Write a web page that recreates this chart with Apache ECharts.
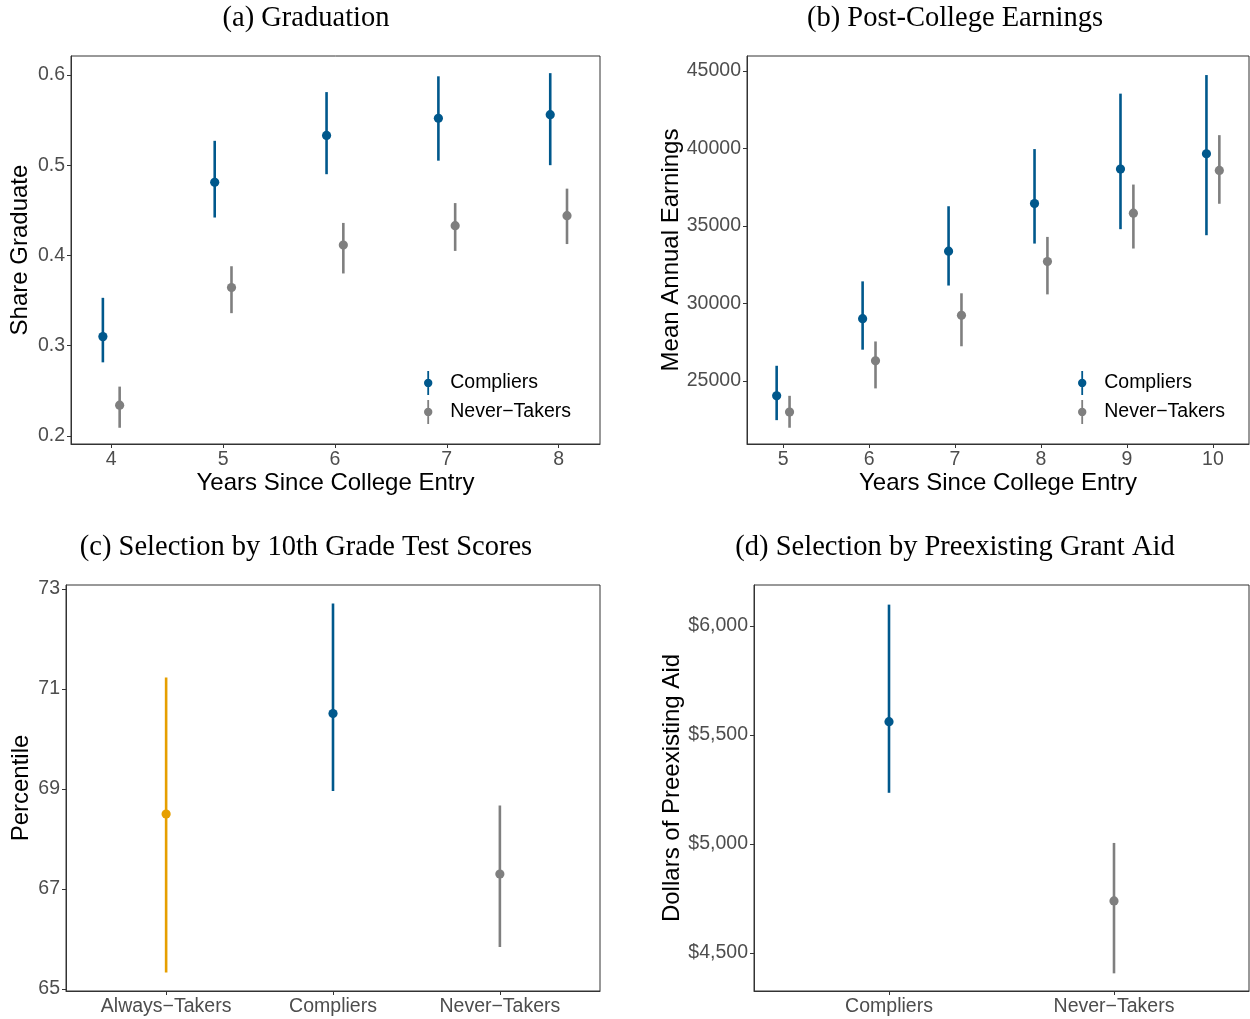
<!DOCTYPE html>
<html>
<head>
<meta charset="utf-8">
<script src="https://cdn.jsdelivr.net/npm/echarts@6/dist/echarts.min.js"></script>
<style>html,body{margin:0;padding:0;background:#fff}#c{width:1250px;height:1019px}</style>
</head>
<body>
<div id="c"></div>
<script>
// ---------- DATA ----------
// (a) Graduation
const gradYears = [4, 5, 6, 7, 8];
const gradCompliers = [0.310, 0.481, 0.533, 0.552, 0.556];
const gradCompliersLo = [0.2815, 0.442, 0.490, 0.505, 0.500];
const gradCompliersHi = [0.353, 0.527, 0.581, 0.5985, 0.602];
const gradNever = [0.234, 0.3644, 0.4115, 0.433, 0.444];
const gradNeverLo = [0.209, 0.336, 0.380, 0.405, 0.4126];
const gradNeverHi = [0.2546, 0.388, 0.436, 0.458, 0.474];
const gradYTicks = [0.2, 0.3, 0.4, 0.5, 0.6];

// (b) Post-College Earnings
const earnYears = [5, 6, 7, 8, 9, 10];
const earnCompliers = [24030, 29010, 33370, 36440, 38670, 39660];
const earnCompliersLo = [22460, 27010, 31150, 33860, 34790, 34400];
const earnCompliersHi = [25970, 31420, 36270, 39960, 43540, 44740];
const earnNever = [22980, 26290, 29230, 32700, 35820, 38580];
const earnNeverLo = [21970, 24510, 27230, 30580, 33540, 36430];
const earnNeverHi = [24030, 27540, 30650, 34290, 37670, 40860];
const earnYTicks = [25000, 30000, 35000, 40000, 45000];

// (c) Selection by 10th Grade Test Scores
const testGroups = ['Always\u2212Takers', 'Compliers', 'Never\u2212Takers'];
const testMean = [68.50, 70.51, 67.30];
const testLo = [65.33, 68.96, 65.84];
const testHi = [71.23, 72.71, 68.67];
const testYTicks = [65, 67, 69, 71, 73];

// (d) Selection by Preexisting Grant Aid
const aidGroups = ['Compliers', 'Never\u2212Takers'];
const aidMean = [5561, 4739];
const aidLo = [5235, 4407];
const aidHi = [6098, 5005];
const aidYTicks = [4500, 5000, 5500, 6000];

const legendNames = ['Compliers', 'Never\u2212Takers'];

// ---------- STYLE ----------
const BLUE = '#00588c';
const GREY = '#7f7f7f';
const ORANGE = '#e69f00';
const groupColor = {'Always\u2212Takers': ORANGE, 'Compliers': BLUE, 'Never\u2212Takers': GREY};
const DODGE = 0.075;
const SANS = 'Liberation Sans, Arial, Helvetica, sans-serif';
const SERIF = 'Liberation Serif, Times New Roman, serif';
const TICKCOL = '#4d4d4d';
const LINECOL = '#333333';

function rows(xs, ys, los, his, off) {
  return xs.map((x, i) => [x + off, ys[i], los[i], his[i]]);
}

function pointRange(color) {
  return function (params, api) {
    const x = api.value(0);
    const p = api.coord([x, api.value(1)]);
    const lo = api.coord([x, api.value(2)]);
    const hi = api.coord([x, api.value(3)]);
    const c = typeof color === 'function' ? color(params.dataIndex) : color;
    return {
      type: 'group',
      children: [
        {type: 'line', shape: {x1: lo[0], y1: lo[1], x2: hi[0], y2: hi[1]},
         style: {stroke: c, lineWidth: 2.6}},
        {type: 'circle', shape: {cx: p[0], cy: p[1], r: 4.6}, style: {fill: c}}
      ]
    };
  };
}

function xAxisBase(gi, min, max, ticks, fmt, name) {
  return {
    type: 'value', gridIndex: gi, min: min, max: max,
    splitLine: {show: false},
    axisLine: {show: true, onZero: false, lineStyle: {color: LINECOL, width: 1}},
    axisTick: {show: true, length: 4, customValues: ticks, lineStyle: {color: LINECOL}},
    axisLabel: {customValues: ticks, color: TICKCOL, fontSize: 19.5, fontFamily: SANS, margin: 6,
                formatter: fmt || (v => String(v))},
    name: name || '', nameLocation: 'middle', nameGap: 26,
    nameTextStyle: {color: '#000', fontSize: 24, fontFamily: SANS}
  };
}
function yAxisBase(gi, min, max, ticks, fmt, name, gap) {
  return {
    type: 'value', gridIndex: gi, min: min, max: max,
    splitLine: {show: false},
    axisLine: {show: true, onZero: false, lineStyle: {color: LINECOL, width: 1}},
    axisTick: {show: true, length: 4, customValues: ticks, lineStyle: {color: LINECOL}},
    axisLabel: {customValues: ticks, color: TICKCOL, fontSize: 19.5, fontFamily: SANS, margin: 6,
                formatter: fmt},
    name: name, nameLocation: 'middle', nameGap: gap, nameRotate: 90,
    nameTextStyle: {color: '#000', fontSize: 24, fontFamily: SANS}
  };
}

const legendIcon = 'path://M4.1,0 H5.9 V24 H4.1 Z M9.2,12 A4.2,4.2 0 1 1 0.8,12 A4.2,4.2 0 1 1 9.2,12 Z';

const titleStyle = {color: '#000', fontSize: 28.5, fontFamily: SERIF, fontWeight: 'normal'};

const option = {
  animation: false,
  backgroundColor: '#ffffff',
  title: [
    {text: '(a) Graduation', left: 306, top: 4, padding: 0, textAlign: 'center', textStyle: titleStyle},
    {text: '(b) Post-College Earnings', left: 955, top: 4, padding: 0, textAlign: 'center', textStyle: titleStyle},
    {text: '(c) Selection by 10th Grade Test Scores', left: 306, top: 533, padding: 0, textAlign: 'center', textStyle: titleStyle},
    {text: '(d) Selection by Preexisting Grant Aid', left: 955, top: 533, padding: 0, textAlign: 'center', textStyle: titleStyle}
  ],
  grid: [
    {left: 71, top: 56, width: 529, height: 388, show: true, borderColor: LINECOL, borderWidth: 1, backgroundColor: '#fff'},
    {left: 747, top: 56, width: 502, height: 388, show: true, borderColor: LINECOL, borderWidth: 1, backgroundColor: '#fff'},
    {left: 66, top: 585, width: 534, height: 406, show: true, borderColor: LINECOL, borderWidth: 1, backgroundColor: '#fff'},
    {left: 754, top: 585, width: 495, height: 406, show: true, borderColor: LINECOL, borderWidth: 1, backgroundColor: '#fff'}
  ],
  legend: [
    {data: legendNames, orient: 'vertical', left: 419, top: 366, itemWidth: 34, itemHeight: 24, itemGap: 5,
     icon: legendIcon, selectedMode: false,
     textStyle: {color: '#000', fontSize: 19.5, fontFamily: SANS}},
    {data: legendNames, orient: 'vertical', left: 1073, top: 366, itemWidth: 34, itemHeight: 24, itemGap: 5,
     icon: legendIcon, selectedMode: false,
     textStyle: {color: '#000', fontSize: 19.5, fontFamily: SANS}}
  ],
  xAxis: [
    xAxisBase(0, 3.64, 8.37, gradYears, null, 'Years Since College Entry'),
    xAxisBase(1, 4.58, 10.42, earnYears, null, 'Years Since College Entry'),
    xAxisBase(2, -0.6, 2.6, [0, 1, 2], v => testGroups[Math.round(v)] || ''),
    xAxisBase(3, -0.6, 1.6, [0, 1], v => aidGroups[Math.round(v)] || '')
  ],
  yAxis: [
    yAxisBase(0, 0.191, 0.621, gradYTicks, v => v.toFixed(1), 'Share Graduate', 39),
    yAxisBase(1, 20920, 45970, earnYTicks, v => String(v), 'Mean Annual Earnings', 63),
    yAxisBase(2, 64.96, 73.08, testYTicks, v => String(v), 'Percentile', 33),
    yAxisBase(3, 4326, 6188, aidYTicks, v => '$' + v.toLocaleString('en-US'), 'Dollars of Preexisting Aid', 70)
  ],
  series: [
    {type: 'custom', name: 'Compliers', xAxisIndex: 0, yAxisIndex: 0, color: BLUE,
     renderItem: pointRange(BLUE), encode: {x: 0, y: [1, 2, 3]},
     data: rows(gradYears, gradCompliers, gradCompliersLo, gradCompliersHi, -DODGE)},
    {type: 'custom', name: 'Never\u2212Takers', xAxisIndex: 0, yAxisIndex: 0, color: GREY,
     renderItem: pointRange(GREY), encode: {x: 0, y: [1, 2, 3]},
     data: rows(gradYears, gradNever, gradNeverLo, gradNeverHi, DODGE)},
    {type: 'custom', name: 'Compliers', xAxisIndex: 1, yAxisIndex: 1, color: BLUE,
     renderItem: pointRange(BLUE), encode: {x: 0, y: [1, 2, 3]},
     data: rows(earnYears, earnCompliers, earnCompliersLo, earnCompliersHi, -DODGE)},
    {type: 'custom', name: 'Never\u2212Takers', xAxisIndex: 1, yAxisIndex: 1, color: GREY,
     renderItem: pointRange(GREY), encode: {x: 0, y: [1, 2, 3]},
     data: rows(earnYears, earnNever, earnNeverLo, earnNeverHi, DODGE)},
    {type: 'custom', name: 'test', xAxisIndex: 2, yAxisIndex: 2,
     renderItem: pointRange(i => groupColor[testGroups[i]]), encode: {x: 0, y: [1, 2, 3]},
     data: rows(testGroups.map((g, i) => i), testMean, testLo, testHi, 0)},
    {type: 'custom', name: 'aid', xAxisIndex: 3, yAxisIndex: 3,
     renderItem: pointRange(i => groupColor[aidGroups[i]]), encode: {x: 0, y: [1, 2, 3]},
     data: rows(aidGroups.map((g, i) => i), aidMean, aidLo, aidHi, 0)}
  ]
};

const chart = echarts.init(document.getElementById('c'), null, {renderer: 'canvas'});
chart.setOption(option);
</script>
</body>
</html>
